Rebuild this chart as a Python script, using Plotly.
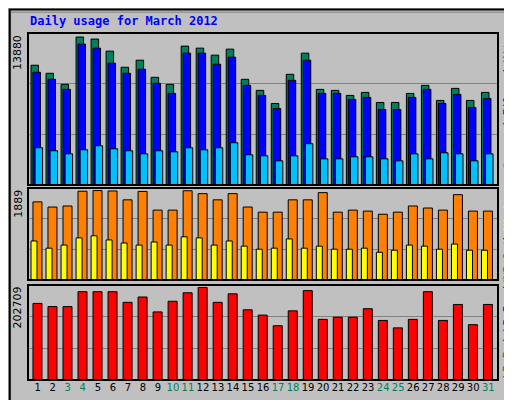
import plotly.graph_objects as go

days = list(range(1, 32))
weekend = [3, 4, 10, 11, 17, 18, 24, 25, 31]
hits = [11234,10478,9440,13880,13688,12555,11045,11706,10101,9440,13027,12838,12178,12744,9912,8874,7646,10384,12366,8968,8874,8402,8685,7741,7741,8590,9346,7930,9062,7930,8685]
files = [10573,9912,8968,13216,12838,11422,10478,10856,9534,8590,12366,12366,11328,11989,9346,8402,7174,9818,11706,8590,8590,8024,8213,7080,7080,8213,8968,7646,8496,7269,8118]
pages = [3493,3210,2926,3304,3682,3398,3210,2926,3210,3115,3493,3304,3493,3965,2832,2738,2266,2738,3870,2454,2454,2643,2643,2454,2266,2926,2454,3021,2926,2266,2926]
visits = [1650,1541,1563,1875,1889,1880,1693,1870,1476,1476,1885,1824,1693,1824,1541,1433,1433,1693,1693,1845,1433,1476,1455,1389,1433,1563,1520,1476,1802,1455,1455]
sites = [825,673,738,890,934,847,782,738,803,738,912,890,738,825,716,651,673,868,673,716,651,651,673,586,630,738,716,651,760,630,630]
kbytes = [167760,160770,160770,193390,193390,193390,170090,181740,149120,172420,191060,202709,170090,188730,153780,142130,118830,151450,195720,132810,137470,137470,156110,130480,114170,132810,193390,130480,165430,121160,165430]

ticktext = [f"<span style='color:#00805c'>{d}</span>" if d in weekend else str(d) for d in days]

fig = go.Figure()
line = dict(color="black", width=1)
def bar(y, color, off, w, xa, ya):
    fig.add_trace(go.Bar(x=days, y=y, marker=dict(color=color, line=line), offset=off, width=w,
                         xaxis=xa, yaxis=ya))

bar(hits, "#00805c", -0.45, 0.5, "x", "y")
bar(files, "#0000ff", -0.32, 0.5, "x", "y")
bar(pages, "#00c0ff", -0.18, 0.5, "x", "y")
bar(visits, "#ff8000", -0.32, 0.6, "x2", "y2")
bar(sites, "#ffff00", -0.45, 0.4, "x2", "y2")
bar(kbytes, "#ff0000", -0.32, 0.6, "x3", "y3")

def yax(mx, dom, anchor):
    r = mx * 151 / 147
    return dict(domain=dom, range=[0, r], showticklabels=False, tickvals=[r / 3, 2 * r / 3],
                gridcolor="#808080", gridwidth=1, zeroline=False, fixedrange=True,
                automargin=False, anchor=anchor)

xcommon = dict(range=[0.35, 31.65], showgrid=False, zeroline=False, tickvals=days, ticks="",
               automargin=False, tickangle=0)
fig.update_layout(
    width=512, height=400, margin=dict(l=20, r=22, t=25, b=28, autoexpand=False),
    paper_bgcolor="#c0c0c0", plot_bgcolor="#c0c0c0", showlegend=False, barmode="overlay",
    font=dict(family="DejaVu Sans", size=10, color="black"),
    xaxis=dict(**xcommon, ticktext=ticktext, anchor="free", position=0, showticklabels=True),
    xaxis2=dict(**xcommon, showticklabels=False, anchor="y2", matches="x"),
    xaxis3=dict(**xcommon, showticklabels=False, anchor="y3", matches="x"),
    yaxis=yax(13880, [0.562, 1], "x"),
    yaxis2=yax(1889, [0.288, 0.553], "x2"),
    yaxis3=yax(202709, [0, 0.274], "x3"),
)

for dom in ([0.562, 1], [0.288, 0.553], [0, 0.274]):
    fig.add_shape(type="rect", xref="paper", yref="paper", x0=0, x1=1, y0=dom[0], y1=dom[1],
                  line=dict(color="black", width=2))
fig.add_shape(type="rect", xref="paper", yref="paper", x0=-0.037, x1=1.043, y0=-0.075, y1=1.06,
              line=dict(color="#808080", width=1))
fig.add_shape(type="rect", xref="paper", yref="paper", x0=-0.039, x1=1.045, y0=-0.078, y1=1.068,
              line=dict(color="black", width=2))

fig.add_annotation(text="<b>Daily usage for March 2012</b>", xref="paper", yref="paper", x=0, y=1.008,
                   xanchor="left", yanchor="bottom", showarrow=False,
                   font=dict(family="DejaVu Sans Mono", size=12, color="#0000ff"))
for lab, ytop in (("13880", 1.0), ("1889", 0.553), ("202709", 0.274)):
    fig.add_annotation(text=lab, xref="paper", yref="paper", x=-0.004, y=ytop, xanchor="right",
                       yanchor="top", textangle=-90, showarrow=False, font=dict(size=11))

mono = dict(family="DejaVu Sans Mono", size=11)
fig.add_annotation(text="<span style='color:#00c0ff'>Pages</span> / <span style='color:#0000ff'>Files</span> / <span style='color:#00805c'>Hits</span>",
                   xref="paper", yref="paper", x=1.003, y=1.0, xanchor="left",
                   yanchor="top", textangle=-90, showarrow=False, font=mono)
fig.add_annotation(text="<span style='color:#ff8000'>Sites</span> / <span style='color:#ffff00'>Visits</span>",
                   xref="paper", yref="paper", x=1.003, y=0.553, xanchor="left",
                   yanchor="top", textangle=-90, showarrow=False, font=mono)
fig.add_annotation(text="<span style='color:#ff0000'>kB F</span> / <span style='color:#0000ff'>kB In</span> / <span style='color:#00805c'>kB Out</span>",
                   xref="paper", yref="paper", x=1.003, y=0.0, xanchor="left",
                   yanchor="bottom", textangle=-90, showarrow=False, font=mono)

fig.write_html("out.html")
